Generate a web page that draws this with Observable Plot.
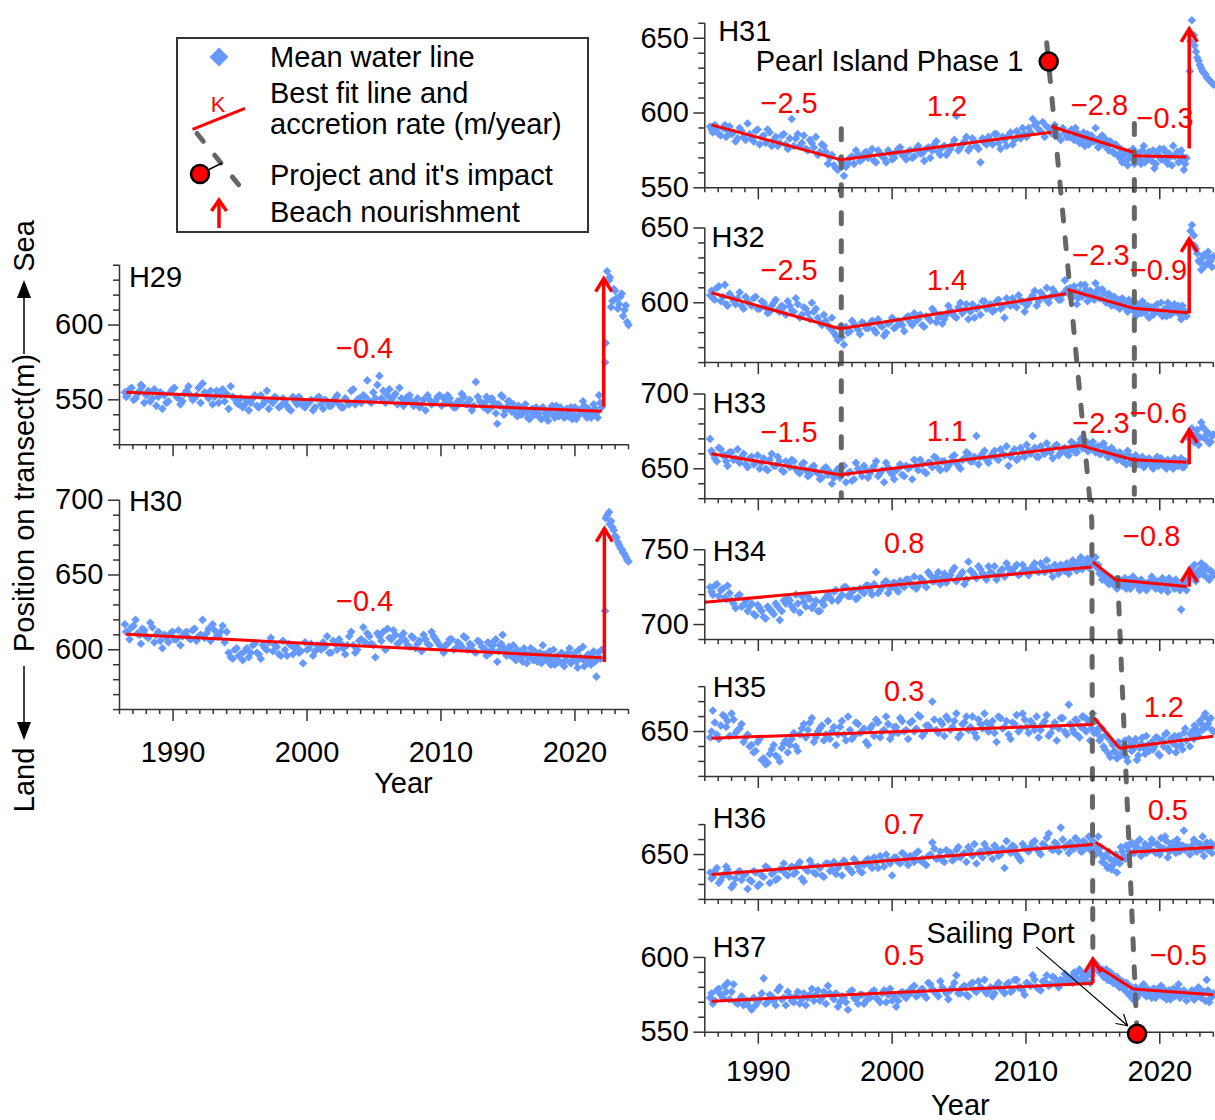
<!DOCTYPE html>
<html><head><meta charset="utf-8">
<script src="https://cdn.jsdelivr.net/npm/d3@7"></script>
<script src="https://cdn.jsdelivr.net/npm/@observablehq/plot@0.6"></script>
<style>
body{margin:0;background:#fff;font-family:"Liberation Sans",Arial,sans-serif;}
#fig{position:relative;width:1215px;height:1120px;overflow:hidden;background:#fff;}
#fig > svg{position:absolute;}
</style></head><body><div id="fig"></div>
<script>
// ---------- DATA ----------
// acquisition dates, first set
const dates = [
1986.4,1986.6,1986.9,1987.2,1987.5,1987.7,1988.0,1988.3,1988.6,1988.9,
1989.2,1989.5,1989.8,1990.1,1990.4,1990.7,1991.0,1991.3,1991.6,1991.9,
1992.2,1992.5,1992.8,1993.1,1993.4,1993.7,1994.0,1994.3,1994.6,1994.9,
1995.2,1995.5,1995.8,1996.1,1996.4,1996.7,1997.0,1997.3,1997.6,1997.9,
1998.2,1998.5,1998.8,1999.1,1999.4,1999.7,2000.0,2000.3,2000.6,2000.9,
2001.2,2001.5,2001.8,2002.1,2002.4,2002.7,2003.0,2003.3,2003.6,2003.9,
2004.2,2004.5,2004.8,2005.1,2005.4,2005.7,2006.0,2006.3,2006.6,2006.9,
2007.2,2007.5,2007.8,2008.1,2008.4,2008.7,2009.0,2009.3,2009.6,2009.9,
2010.2,2010.5,2010.8,2011.1,2011.4,2011.7,2012.0,2012.3,2012.6,2012.9,
2013.2,2013.4,2013.6,2013.8,2014.0,2014.2,2014.4,2014.6,2014.8,2015.0,
2015.2,2015.4,2015.6,2015.8,2016.0,2016.2,2016.4,2016.6,2016.8,2017.0,
2017.2,2017.4,2017.6,2017.8,2018.0,2018.2,2018.4,2018.6,2018.8,2019.0,
2019.2,2019.4,2019.6,2019.8,2020.0,2020.2,2020.4,2020.6,2020.8,2021.0,
2021.2,2021.4,2021.6,2021.8,2022.0,
2022.25,2022.4,2022.55,2022.7,2022.9,2023.1,2023.3,2023.5,2023.7,2023.9];
// acquisition dates, second set
const dates2 = [
1986.5,1986.75,1987.05,1987.35,1987.6,1987.85,1988.15,1988.45,1988.75,1989.05,
1989.35,1989.65,1989.95,1990.25,1990.55,1990.85,1991.15,1991.45,1991.75,1992.05,
1992.35,1992.65,1992.95,1993.25,1993.55,1993.85,1994.15,1994.45,1994.75,1995.05,
1995.35,1995.65,1995.95,1996.25,1996.55,1996.85,1997.15,1997.45,1997.75,1998.05,
1998.35,1998.65,1998.95,1999.25,1999.55,1999.85,2000.15,2000.45,2000.75,2001.05,
2001.35,2001.65,2001.95,2002.25,2002.55,2002.85,2003.15,2003.45,2003.75,2004.05,
2004.35,2004.65,2004.95,2005.25,2005.55,2005.85,2006.15,2006.45,2006.75,2007.05,
2007.35,2007.65,2007.95,2008.25,2008.55,2008.85,2009.15,2009.45,2009.75,2010.05,
2010.35,2010.65,2010.95,2011.25,2011.55,2011.85,2012.15,2012.45,2012.75,2013.05,
2013.3,2013.5,2013.7,2013.9,2014.1,2014.3,2014.5,2014.7,2014.9,2015.1,
2015.3,2015.5,2015.7,2015.9,2016.1,2016.3,2016.5,2016.7,2016.9,2017.1,
2017.3,2017.5,2017.7,2017.9,2018.1,2018.3,2018.5,2018.7,2018.9,2019.1,
2019.3,2019.5,2019.7,2019.9,2020.1,2020.3,2020.5,2020.7,2020.9,2021.1,
2021.3,2021.5,2021.7,2021.9,
2022.3,2022.6,2022.8,2023.0,2023.2,2023.4,2023.6,2023.8,2024.0];

const H29 = [
555,553,558,551,556,559,553,549,557,552, 544,548,555,558,551,549,556,553,551,558,
561,553,556,552,548,557,554,559,551,547, 545,550,548,553,545,547,556,549,552,545,
551,546,543,549,552,546,548,550,545,552, 544,549,546,551,547,545,549,556,547,551,
553,563,548,551,566,556,553,550,554,558, 546,552,549,548,545,550,553,547,549,553,
551,553,547,545,549,552,547,543,562,549, 545,552,544,551,548,534,546,552,543,549,
544,547,541,546,540,545,542,537,544,540, 543,538,545,541,536,544,540,546,539,542,
538,544,541,537,545,539,543,549,540,544, 538,547,541,553,545,
575,636,630,612,624,618,614,621,610,602];
const H29b = [
552,557,550,554,560,548,556,551,546,555, 553,549,557,552,547,554,559,550,553,548,
555,551,547,556,553,549,544,552,548,551, 547,543,551,546,553,549,544,548,551,546,
549,544,552,547,550,545,548,543,551,547, 550,546,548,553,545,551,547,557,550,548,
552,549,555,560,551,548,557,552,547,551, 549,553,546,551,547,543,550,548,552,546,
548,551,545,549,554,547,550,546,552,548, 548,543,550,546,541,547,553,540,545,549,
542,546,539,544,541,547,538,543,540,545, 541,537,544,539,542,546,538,541,545,539,
543,539,545,540,537,543,541,546,538,542, 540,544,538,548,
588,632,616,623,611,619,606,613,600];
const H30 = [
617,612,615,620,610,614,609,618,605,612, 601,608,611,607,613,609,612,607,614,609,
620,611,606,613,609,616,612,595,600,596, 593,601,598,604,597,603,600,608,603,597,
606,596,603,601,598,591,600,604,599,602, 605,609,598,604,607,601,603,612,598,606,
615,611,604,595,609,612,614,607,610,605, 611,603,609,601,606,610,604,612,607,603,
598,604,607,601,604,609,600,603,598,605, 601,596,604,600,606,592,603,610,598,601,
596,603,593,599,595,601,591,597,594,599, 592,598,603,594,597,590,600,595,592,598,
589,596,601,593,598,588,595,602,592,597, 590,599,582,595,600,
626,690,692,686,680,675,670,667,664,660];
const H30b = [
612,607,616,611,604,613,608,615,610,606, 610,605,612,607,603,611,608,613,606,610,
608,614,617,609,612,605,598,594,601,597, 599,595,603,598,594,601,605,599,602,596,
600,604,597,602,599,605,601,596,603,600, 602,598,606,600,604,597,609,603,600,607,
605,609,603,611,606,600,608,613,604,609, 606,602,608,604,599,607,603,609,605,601,
603,607,600,605,602,608,604,599,606,602, 600,605,598,603,607,599,604,601,596,602,
598,594,600,596,592,598,595,601,593,597, 595,591,597,593,599,594,590,596,592,597,
593,598,591,596,592,600,594,589,596,593, 597,592,598,594,
688,684,682,676,672,668,665,662,659];
const H31 = [
591,587,590,585,592,588,586,581,590,584, 593,583,588,579,585,589,578,584,580,586,
576,596,583,578,585,575,580,584,574,578, 566,572,563,569,558,566,571,575,568,573,
570,576,567,573,570,575,569,574,577,571, 574,570,576,573,568,577,575,581,572,578,
574,579,598,577,581,575,583,578,567,580, 584,579,586,576,582,585,579,588,583,586,
590,596,593,588,584,590,586,589,582,587, 584,589,582,587,580,585,578,586,581,583,
590,577,584,579,582,575,580,573,578,570, 567,574,565,571,576,569,573,566,578,570,
574,568,563,572,576,569,574,566,571,578, 572,567,575,562,570,
628,662,652,641,635,630,627,624,622,620];
const H31b = [
589,592,586,590,584,591,587,583,588,582, 586,581,589,584,580,587,582,578,585,579,
583,578,586,580,576,582,577,572,579,574, 570,565,562,567,564,570,566,572,569,574,
572,568,575,571,567,573,570,576,572,569, 575,571,578,573,576,570,579,574,577,572,
576,582,575,579,584,577,581,576,583,579, 581,586,580,584,578,587,582,586,590,584,
587,592,589,594,591,587,592,585,590,584, 588,583,590,585,581,587,583,579,585,581,
582,578,585,580,576,581,574,579,572,576, 572,568,574,570,566,572,569,575,567,573,
570,575,566,572,569,576,568,573,565,571, 574,568,571,566,
648,645,637,632,628,626,623,621,619];
const H32 = [
605,603,610,601,612,598,604,599,607,596, 601,598,604,596,600,593,598,602,594,597,
601,595,603,590,597,593,600,596,587,592, 585,590,578,584,572,580,588,584,579,586,
583,588,580,585,578,586,590,584,587,581, 591,585,588,592,584,590,596,587,592,589,
598,593,590,600,595,589,599,596,592,601, 597,594,601,596,590,599,603,597,601,594,
600,605,598,607,603,600,609,604,602,615, 606,603,611,599,607,604,612,601,608,605,
613,609,603,607,600,606,598,604,600,596, 603,598,594,600,596,591,598,593,599,595,
590,597,593,599,594,591,596,600,592,597, 594,598,589,595,591,
640,652,645,636,628,622,632,626,630,624];
const H32b = [
608,602,611,604,599,606,601,603,598,604, 599,603,596,601,597,594,600,595,598,592,
598,594,599,592,596,589,594,590,585,588, 583,580,575,577,584,581,586,582,587,583,
586,582,589,584,580,587,583,588,585,590, 587,593,589,585,591,588,594,590,586,592,
595,591,597,593,599,594,590,597,601,596, 599,595,602,597,603,598,600,605,601,598,
603,608,601,605,610,604,607,602,606,609, 610,605,608,603,612,606,609,604,607,602,
607,603,609,601,605,600,603,598,602,599, 600,596,602,597,594,599,596,601,593,598,
596,592,598,594,600,595,591,597,593,599, 596,592,598,594,
648,638,633,627,630,625,634,628,631];
const H33 = [
670,660,655,663,659,652,661,657,654,660, 651,658,654,650,657,649,660,652,655,648,
653,656,650,647,654,645,651,648,643,650, 646,640,648,644,652,647,642,654,648,652,
644,650,655,647,641,651,646,649,653,645, 650,643,652,656,648,654,651,657,649,655,
652,658,654,650,657,660,655,672,658,662, 654,660,657,663,659,652,661,656,664,658,
662,672,658,665,660,663,657,666,661,664, 659,668,663,661,667,664,669,662,666,668,
661,665,660,667,663,658,664,660,656,661, 655,658,662,654,657,659,653,656,651,655,
657,652,654,658,653,655,651,656,653,650, 655,652,657,651,654,
670,677,668,673,666,681,671,675,667,672];
const H33b = [
662,657,664,659,655,661,656,663,658,653, 657,653,659,654,650,656,652,658,649,655,
651,655,648,653,649,646,652,647,644,651, 648,644,650,646,641,648,643,650,645,649,
647,652,645,649,654,648,643,650,646,652, 651,656,649,653,647,654,658,651,655,650,
654,659,652,656,661,655,658,653,660,656, 658,662,656,660,665,658,663,657,661,666,
660,664,658,662,667,661,665,659,663,660, 663,667,661,665,670,664,668,662,666,663,
664,660,666,662,658,663,659,661,657,660, 657,653,659,655,652,657,654,658,652,656,
654,650,656,652,657,653,650,655,652,657, 653,656,651,655,
674,669,676,671,678,670,674,668,673];
const H34 = [
725,720,727,723,718,726,716,711,720,713, 709,714,706,711,705,712,709,714,703,716,
718,712,720,708,715,719,711,716,709,713, 720,716,723,718,725,719,722,717,724,721,
726,720,735,723,728,721,727,724,729,725, 730,726,724,731,728,735,729,732,727,734,
731,736,729,733,727,742,735,731,737,733, 739,734,730,736,732,738,735,740,734,737,
733,739,736,741,735,738,732,737,740,736, 734,738,741,736,743,737,740,744,739,742,
745,740,736,733,730,727,731,728,724,730, 726,731,728,724,732,729,725,730,727,723,
728,732,726,729,724,731,727,722,729,726, 730,725,710,727,723,
731,738,734,729,736,741,733,737,730,735];
const H34b = [
722,726,719,724,717,721,714,719,712,716, 712,707,713,709,704,710,707,712,709,714,
716,710,714,719,712,717,713,709,715,718, 718,722,716,720,725,719,723,718,722,726,
723,727,721,725,729,724,728,722,726,730, 728,732,726,730,725,733,729,735,731,728,
733,738,731,735,730,736,733,739,734,730, 735,739,733,737,741,735,738,733,740,736,
737,741,735,739,743,736,740,734,738,741, 739,743,737,741,745,739,742,738,744,741,
738,734,730,733,728,731,727,730,726,729, 728,724,730,726,731,727,723,729,725,728,
726,730,724,728,723,729,725,731,727,724, 728,723,726,730,
735,740,732,737,734,739,731,736,733];
const H35 = [
646,664,648,654,660,657,662,649,652,643, 648,641,637,645,632,629,638,634,630,642,
636,645,640,648,655,651,659,646,652,644, 657,650,641,653,648,660,645,656,649,652,
641,654,658,646,651,655,648,653,659,650, 645,657,652,660,649,654,670,651,657,647,
658,653,662,648,656,651,660,646,655,662, 650,657,643,659,653,648,656,661,652,658,
649,655,660,651,657,647,653,644,659,650, 668,654,649,657,646,660,651,658,644,662,
657,652,646,640,648,635,643,637,632,640, 636,644,630,641,638,645,634,642,639,647,
637,643,640,646,634,644,648,639,645,642, 636,647,641,649,644,
640,650,645,652,647,655,660,653,658,651];
const H35b = [
650,656,645,661,653,647,658,651,655,646, 640,636,643,631,628,635,641,633,639,644,
641,649,637,652,646,656,643,650,654,648, 645,653,648,657,644,651,647,655,650,643,
652,647,656,650,660,645,653,649,657,651, 656,650,661,647,654,652,658,649,655,660,
651,657,646,655,660,653,649,658,652,656, 654,649,660,652,657,645,655,650,662,653,
657,651,646,655,661,649,656,652,659,648, 655,651,658,647,653,660,650,656,652,649,
649,644,652,638,646,633,641,636,643,634, 640,633,645,637,643,631,639,646,635,641,
642,638,646,635,644,640,649,637,643,647, 640,645,638,652,
648,654,649,657,651,662,655,659,650];
const H36 = [
638,635,641,633,637,640,628,634,639,636, 627,632,638,630,635,641,637,633,640,644,
636,642,638,645,632,639,643,637,641,635, 644,640,637,643,646,641,638,645,639,643,
647,641,645,649,642,646,636,648,644,650, 643,648,651,646,644,649,658,647,652,645,
650,646,653,648,651,655,649,644,652,657, 651,647,654,650,641,653,656,650,646,655,
652,658,654,650,656,664,653,657,668,655, 651,657,654,660,656,652,658,655,653,659,
650,662,655,648,643,652,640,646,638,644, 652,647,655,650,657,653,659,649,654,651,
656,660,652,657,650,654,662,648,655,658, 651,657,653,666,655,
650,656,660,652,657,653,649,658,655,651];
const H36b = [
634,639,631,636,642,635,630,638,633,637, 633,639,629,636,642,631,638,634,640,637,
641,637,643,634,640,646,638,642,636,644, 639,645,641,636,644,640,647,642,638,646,
643,648,641,646,650,644,648,645,651,646, 649,645,652,647,643,650,654,648,646,653,
651,647,655,650,645,653,657,651,648,654, 652,656,649,654,659,651,655,648,657,653,
655,659,652,657,661,654,658,652,660,656, 658,654,661,656,652,659,655,662,657,653,
655,651,645,649,641,647,643,650,646,655, 649,656,652,658,651,655,660,652,657,654,
653,658,651,656,661,654,659,652,657,655, 660,652,656,653,
654,659,652,657,662,655,653,658,656];
const H37 = [
573,569,578,575,581,583,577,570,572,568, 571,565,568,572,586,570,574,568,580,573,
577,571,574,569,576,573,579,575,571,577, 581,574,576,570,573,565,578,572,575,569,
574,577,573,570,578,575,571,567,576,574, 577,580,574,578,575,583,579,576,584,578,
572,580,588,576,581,574,583,577,580,585, 578,574,581,579,576,583,578,585,580,575,
582,588,580,578,584,581,587,583,585,589, 584,587,590,586,592,585,589,588,583,591,
596,593,590,587,592,585,589,583,587,580, 584,578,582,576,572,580,575,578,582,574,
577,573,579,576,580,574,578,575,572,579, 576,582,574,578,571,
575,578,572,576,580,573,577,585,570,574];
const H37b = [
576,571,579,573,577,572,582,569,574,571, 567,573,570,576,569,575,571,578,572,568,
574,570,577,572,568,575,571,578,573,569, 576,572,567,574,570,577,573,569,575,571,
573,578,572,576,570,579,574,571,577,573, 576,581,575,579,573,582,577,574,580,576,
578,583,576,580,575,582,578,584,579,576, 580,576,583,578,582,577,585,580,578,583,
581,585,579,584,588,582,586,580,584,587, 586,583,589,585,590,587,584,592,588,594,
595,590,592,588,585,590,583,586,581,584, 579,583,575,580,577,573,578,581,575,579,
575,579,573,577,581,575,572,578,576,574, 579,573,577,575,
576,572,579,574,577,571,578,573,576];

// best-fit segments: [transect, year1, value1, year2, value2]
const fitLines = [
 ["H29",1986.5,555,2022.0,542.4],
 ["H30",1986.5,610.3,2022.0,594.6],
 ["H31",1986.5,592.1,1996.2,568.7],["H31",1996.2,568.7,2011.9,587.2],["H31",2011.9,591,2018.0,573.8],["H31",2018.0,571.4,2022.0,570.6],
 ["H32",1986.5,606.7,1996.1,582.6],["H32",1996.1,582.6,2013.0,606],["H32",2013.1,608.9,2018.0,596.4],["H32",2018.0,596.4,2022.1,593.3],
 ["H33",1986.5,660,1996.1,646],["H33",1996.1,646,2014.1,665.5],["H33",2014.1,665.5,2018.0,656],["H33",2018.0,656,2022.0,654.4],
 ["H34",1986.0,714.9,2014.9,738.4],["H34",2015.0,741.8,2016.7,729.9],["H34",2016.7,729.9,2022.0,725.4],
 ["H35",1986.5,645.5,2015.0,654.7],["H35",2015.1,659,2017.0,638.8],["H35",2017.0,638.8,2024.0,646.9],
 ["H36",1986.5,636.6,2015.0,656.7],["H36",2015.2,658.2,2017.3,646.4],["H36",2017.7,651.6,2024.0,654.9],
 ["H37",1986.5,570.7,2015.0,582.7],["H37",2015.1,595.5,2018.0,578.9],["H37",2018.0,578.9,2024.0,575.1]
];
// accretion rates (m/year): [transect, year, value, text]
const rateLabels = [
 ["H29",2004.3,584,"−0.4"],["H30",2004.3,632,"−0.4"],
 ["H31",1992.3,606,"−2.5"],["H31",2004.1,604,"1.2"],["H31",2015.5,605,"−2.8"],["H31",2020.4,596,"−0.3"],
 ["H32",1992.3,621.5,"−2.5"],["H32",2004.1,615,"1.4"],["H32",2015.6,631.5,"−2.3"],["H32",2019.9,621.5,"−0.9"],
 ["H33",1992.3,674,"−1.5"],["H33",2004.1,675,"1.1"],["H33",2015.6,680,"−2.3"],["H33",2019.9,687,"−0.6"],
 ["H34",2000.9,754,"0.8"],["H34",2019.4,758.4,"−0.8"],
 ["H35",2000.9,676.4,"0.3"],["H35",2020.3,665.6,"1.2"],
 ["H36",2000.9,670,"0.7"],["H36",2020.6,679,"0.5"],
 ["H37",2000.9,601,"0.5"],["H37",2021.4,601,"−0.5"]
];
// beach nourishment: [transect, year, from, to]
const nourishment = [
 ["H29",2022.15,545,631],["H30",2022.2,591.5,681],["H31",2022.2,576,656.3],
 ["H32",2022.2,592.5,642.7],["H33",2022.2,652.7,676],["H34",2022.2,725,737.3],["H37",2015.0,582.7,598.9]
];
// projects: [transect, year, value, name]
const projects = [["H31",2011.7,634.4,"Pearl Island Phase 1"],["H37",2018.3,549,"Sailing Port"]];
// project impact lines: lists of [transect, year, value]
const impactLines = [
 [["H31",1996.2,589.4],["H33",1996.2,631]],
 [["H31",2011.55,647],["H34",2014.92,769.6],["H37",2015.0,598.5]],
 [["H31",2018.1,593],["H33",2018.1,633]],
 [["H37",2018.3,549],["H34",2016.85,731.5]]
];
const yearTicks = [1990,2000,2010,2020];

// ---------- LAYOUT ----------
const series = {H29:[H29,H29b],H30:[H30,H30b],H31:[H31,H31b],H32:[H32,H32b],H33:[H33,H33b],
                H34:[H34,H34b],H35:[H35,H35b],H36:[H36,H36b],H37:[H37,H37b]};
const K = 1.4956; // pixels per metre on every panel
const FONT = "Liberation Sans, Arial, Helvetica, sans-serif";
const BLUE = "#6699ff", RED = "#ff0000", GREY = "#666666", AXIS = "#333333";
const leftLayout = [
 {name:"H29", lo:520, hi:640, bottom:444.2, lx:1986.7, ly:631.5},
 {name:"H30", lo:560, hi:700, bottom:709.1, lx:1986.7, ly:698.9}];
const rightLayout = [
 {name:"H31", lo:550, hi:660, bottom:187.3, lx:1987.0, ly:654.5},
 {name:"H32", lo:560, hi:650, bottom:362.1, lx:1986.5, ly:643.5},
 {name:"H33", lo:630, hi:700, bottom:498.2, lx:1986.6, ly:693.5},
 {name:"H34", lo:690, hi:750, bottom:639.0, lx:1986.6, ly:748.4},
 {name:"H35", lo:620, hi:680, bottom:775.9, lx:1986.6, ly:679.6},
 {name:"H36", lo:620, hi:670, bottom:898.9, lx:1986.6, ly:674},
 {name:"H37", lo:550, hi:600, bottom:1031.7, lx:1986.6, ly:606.7}];
const projLabelPos = {"H31":{x:2009.8, y:634.4, anchor:"end"}, "H37":{x:2008.1, y:615.6, anchor:"middle"}};
const sailingArrow = [{n:"H37", x1:2010.8, v1:606.7, x2:2017.6, v2:554.3}];

const chevron = {draw(ctx, size){ const s = Math.sqrt(size/Math.PI); ctx.moveTo(-0.62*s, s); ctx.lineTo(0,0); ctx.lineTo(0.62*s, s); }};

function column({layout, width, height, marginLeft, marginRight, yearDy, titleX}) {
  const by = new Map(layout.map(p => [p.name, p]));
  const has = n => by.has(n);
  const G = (n, v) => { const p = by.get(n); return (height - p.bottom)/K + (v - p.lo); };
  const pts = layout.flatMap(p => {
    const [a, b] = series[p.name];
    return a.map((v,i) => ({x: dates[i], y: G(p.name, v)})).concat(b.map((v,i) => ({x: dates2[i], y: G(p.name, v)})));
  });
  const yT = layout.flatMap(p => d3.range(p.lo, p.hi + 0.1, 10).map(v => ({v, y: G(p.name, v), major: v % 50 === 0})));
  const xT = layout.flatMap(p => d3.range(1986, 2025).map(t => ({x: t, y: G(p.name, p.lo), major: t % 10 === 0})));
  const fits = fitLines.filter(d => has(d[0])).map(d => ({x1:d[1], y1:G(d[0],d[2]), x2:d[3], y2:G(d[0],d[4])}));
  const rates = rateLabels.filter(d => has(d[0])).map(d => ({x:d[1], y:G(d[0],d[2]), text:d[3]}));
  const arrows = nourishment.filter(d => has(d[0])).map(d => ({x:d[1], y1:G(d[0],d[2]), y2:G(d[0],d[3])}));
  const impacts = impactLines.filter(l => l.every(p => has(p[0]))).flatMap((l,k) => l.map(p => ({k, x:p[1], y:G(p[0],p[2])})));
  const proj = projects.filter(d => has(d[0])).map(d => ({x:d[1], y:G(d[0],d[2]), text:d[3],
      tx: projLabelPos[d[0]].x, ty: G(d[0], projLabelPos[d[0]].y), anchor: projLabelPos[d[0]].anchor}));
  const ann = sailingArrow.filter(d => has(d.n)).map(d => ({x1:d.x1, y1:G(d.n,d.v1), x2:d.x2, y2:G(d.n,d.v2)}));
  const last = layout[layout.length - 1];
  const base = G(last.name, last.lo);
  const fs = 29;
  return Plot.plot({
    width, height, marginLeft, marginRight, marginTop: 0, marginBottom: 0,
    style: {background: "transparent", overflow: "visible", fontFamily: FONT},
    x: {domain: [1986, 2024], axis: null},
    y: {domain: [0, height / K], axis: null},
    marks: [
      Plot.dot(pts, {x: "x", y: "y", symbol: "diamond2", r: 3.9, fill: BLUE}),
      Plot.line(impacts, {x: "x", y: "y", z: "k", stroke: GREY, strokeWidth: 5, strokeDasharray: "11,17", strokeLinecap: "round"}),
      Plot.link(fits, {x1: "x1", y1: "y1", x2: "x2", y2: "y2", stroke: RED, strokeWidth: 3}),
      Plot.ruleX(arrows, {x: "x", y1: "y1", y2: "y2", stroke: RED, strokeWidth: 3.5}),
      Plot.dot(arrows, {x: "x", y: "y2", symbol: chevron, r: 13, fill: "none", stroke: RED, strokeWidth: 3.5}),
      Plot.text(rates, {x: "x", y: "y", text: "text", fill: RED, fontSize: fs}),
      // axes
      Plot.ruleX(layout, {x: () => 1986, y1: p => G(p.name, p.lo), y2: p => G(p.name, p.hi), stroke: AXIS, strokeWidth: 1.5}),
      Plot.ruleY(layout, {y: p => G(p.name, p.lo), x1: () => 1986, x2: () => 2024, stroke: AXIS, strokeWidth: 1.5}),
      Plot.ruleY(yT.filter(d => d.major), {y: "y", x1: () => 1986, x2: () => 1986, insetLeft: -11, stroke: AXIS, strokeWidth: 1.5}),
      Plot.ruleY(yT.filter(d => !d.major), {y: "y", x1: () => 1986, x2: () => 1986, insetLeft: -6, stroke: AXIS, strokeWidth: 1.5}),
      Plot.ruleX(xT.filter(d => d.major), {x: "x", y1: "y", y2: "y", insetBottom: -12, stroke: AXIS, strokeWidth: 1.5}),
      Plot.ruleX(xT.filter(d => !d.major), {x: "x", y1: "y", y2: "y", insetBottom: -5, stroke: AXIS, strokeWidth: 1.5}),
      Plot.text(yT.filter(d => d.major), {x: () => 1986, y: "y", text: d => String(d.v), textAnchor: "end", dx: -16, fontSize: fs}),
      Plot.text(yearTicks, {x: d => d, y: () => base, dy: yearDy, text: d => String(d), fontSize: fs}),
      Plot.text(["Year"], {x: () => titleX, y: () => base, dy: 74, text: d => d, fontSize: fs}),
      Plot.text(layout, {x: "lx", y: p => G(p.name, p.ly), text: "name", textAnchor: "start", fontSize: fs}),
      // projects
      Plot.arrow(ann, {x1: "x1", y1: "y1", x2: "x2", y2: "y2", stroke: "black", strokeWidth: 1.2, headLength: 15, headAngle: 60}),
      Plot.dot(proj, {x: "x", y: "y", r: 9, fill: RED, stroke: "black", strokeWidth: 2.5}),
      Plot.text(proj.filter(d => d.anchor === "end"), {x: "tx", y: "ty", text: "text", textAnchor: "end", fontSize: fs}),
      Plot.text(proj.filter(d => d.anchor === "middle"), {x: "tx", y: "ty", text: "text", textAnchor: "middle", fontSize: fs})
    ]
  });
}

const fig = document.getElementById("fig");
const left = column({layout: leftLayout, width: 640, height: 800, marginLeft: 119, marginRight: 12, yearDy: 43, titleX: 2007.2});
left.style.left = "0px"; left.style.top = "0px";
fig.appendChild(left);
const right = column({layout: rightLayout, width: 595, height: 1120, marginLeft: 84.3, marginRight: 2.2, yearDy: 40, titleX: 2005.1});
right.style.left = "620px"; right.style.top = "0px";
fig.appendChild(right);

// legend and y-axis title (decoration)
const ns = "http://www.w3.org/2000/svg";
const deco = document.createElementNS(ns, "svg");
deco.setAttribute("width", 600); deco.setAttribute("height", 840);
deco.style.left = "0px"; deco.style.top = "0px";
deco.innerHTML = `
<g font-family="${FONT}" font-size="29">
<rect x="177" y="38" width="411" height="194" fill="white" stroke="#333" stroke-width="2"/>
<path d="M219,47.5L228.5,57L219,66.5L209.5,57Z" fill="${BLUE}"/>
<text x="270" y="57" dy="0.35em">Mean water line</text>
<line x1="192.5" y1="129.3" x2="245" y2="108.3" stroke="${RED}" stroke-width="3"/>
<text x="218" y="104" dy="0.35em" font-size="22" fill="${RED}" text-anchor="middle">K</text>
<text x="270" y="93" dy="0.35em">Best fit line and</text>
<text x="270" y="124" dy="0.35em">accretion rate (m/year)</text>
<line x1="197" y1="133.5" x2="247" y2="195" stroke="${GREY}" stroke-width="5" stroke-dasharray="10,18" stroke-linecap="round"/>
<line x1="200" y1="174" x2="222" y2="163" stroke="black" stroke-width="1.5"/>
<circle cx="200" cy="174" r="9" fill="${RED}" stroke="black" stroke-width="2.5"/>
<text x="270" y="175" dy="0.35em">Project and it's impact</text>
<line x1="219" y1="228" x2="219" y2="201" stroke="${RED}" stroke-width="3.5"/>
<path d="M211.5,211L219,200L226.5,211" fill="none" stroke="${RED}" stroke-width="3.5"/>
<text x="270" y="212" dy="0.35em">Beach nourishment</text>
<g transform="translate(24,0)">
<text transform="translate(0,503) rotate(-90)" text-anchor="middle" dy="0.35em">Position on transect(m)</text>
<text transform="translate(0,780) rotate(-90)" text-anchor="middle" dy="0.35em">Land</text>
<text transform="translate(0,246) rotate(-90)" text-anchor="middle" dy="0.35em">Sea</text>
<line x1="0" y1="666" x2="0" y2="724" stroke="black" stroke-width="1.5"/>
<path d="M-7,722L7,722L0,740Z" fill="black"/>
<line x1="0" y1="297" x2="0" y2="354" stroke="black" stroke-width="1.5"/>
<path d="M-7,298L7,298L0,280Z" fill="black"/>
</g>
</g>`;
fig.appendChild(deco);
</script></body></html>
